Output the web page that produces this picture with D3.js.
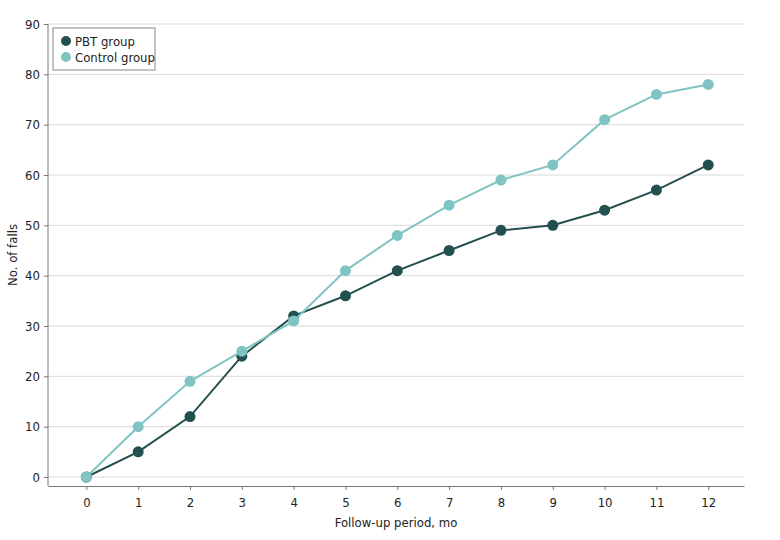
<!DOCTYPE html>
<html>
<head>
<meta charset="utf-8">
<script src="https://cdn.jsdelivr.net/npm/d3@7"></script>
<style>
  body { margin: 0; background: #fff; }
  svg text { font-family: "Liberation Sans Narrow", "DejaVu Sans Condensed", "Open Sans", sans-serif; fill: #222; }
</style>
</head>
<body>
<div id="chart"></div>
<script>
// data
var months = [0, 1, 2, 3, 4, 5, 6, 7, 8, 9, 10, 11, 12];
var pbtFalls = [0, 5, 12, 24, 32, 36, 41, 45, 49, 50, 53, 57, 62];
var controlFalls = [0, 10, 19, 25, 31, 41, 48, 54, 59, 62, 71, 76, 78];
var yTicks = [0, 10, 20, 30, 40, 50, 60, 70, 80, 90];
var seriesNames = ["PBT group", "Control group"];
var seriesColors = ["#22504f", "#7fc4c2"];

var width = 780, height = 540;
var margin = {top: 24, right: 36, bottom: 54, left: 48};

var svg = d3.select("#chart")
    .append("svg")
    .attr("width", width)
    .attr("height", height);

var x = d3.scaleLinear()
    .domain([-0.74, 12.69])
    .range([margin.left, width - margin.right]);

var y = d3.scaleLinear()
    .domain([0, 90])
    .range([477, margin.top]);

// gridlines
svg.append("g")
    .selectAll("line")
    .data(yTicks)
    .enter()
    .append("line")
    .attr("x1", margin.left)
    .attr("x2", width - margin.right)
    .attr("y1", function (d) { return y(d); })
    .attr("y2", function (d) { return y(d); })
    .style("stroke", "#d9d9d9")
    .style("stroke-width", 1);

// Y axis
var yAxis = svg.append("g")
    .attr("transform", "translate(" + margin.left + ",0)")
    .call(d3.axisLeft(y).tickValues(yTicks).tickSize(4).tickPadding(4));
yAxis.select(".domain").attr("d", "M0," + margin.top + "V486");

// X axis
var xAxis = svg.append("g")
    .attr("transform", "translate(0,486)")
    .call(d3.axisBottom(x).tickValues(months).tickSize(4).tickPadding(8).tickSizeOuter(0));

svg.selectAll(".domain, .tick line").style("stroke", "#777");
svg.selectAll(".tick text").style("font-size", "13px");

// axis titles
svg.append("text")
    .attr("x", (margin.left + width - margin.right) / 2)
    .attr("y", 527)
    .attr("text-anchor", "middle")
    .style("font-size", "13px")
    .text("Follow-up period, mo");

svg.append("text")
    .attr("transform", "translate(17," + ((margin.top + 486) / 2) + ") rotate(-90)")
    .attr("text-anchor", "middle")
    .style("font-size", "13px")
    .text("No. of falls");

// lines and dots, control drawn last
var allSeries = [pbtFalls, controlFalls];
var line = d3.line()
    .x(function (d, i) { return x(months[i]); })
    .y(function (d) { return y(d); });

allSeries.forEach(function (vals, k) {
    svg.append("path")
        .datum(vals)
        .attr("d", line)
        .style("fill", "none")
        .style("stroke", seriesColors[k])
        .style("stroke-width", 2);
    svg.append("g")
        .selectAll("circle")
        .data(vals)
        .enter()
        .append("circle")
        .attr("cx", function (d, i) { return x(months[i]); })
        .attr("cy", function (d) { return y(d); })
        .attr("r", 5.5)
        .style("fill", seriesColors[k]);
});

// legend
var legend = svg.append("g").attr("transform", "translate(53,28)");
legend.append("rect")
    .attr("width", 102)
    .attr("height", 42)
    .style("fill", "#fff")
    .style("stroke", "#888")
    .style("stroke-width", 1);
seriesNames.forEach(function (name, k) {
    legend.append("circle")
        .attr("cx", 13)
        .attr("cy", 13 + k * 16)
        .attr("r", 5)
        .style("fill", seriesColors[k]);
    legend.append("text")
        .attr("x", 22)
        .attr("y", 13 + k * 16)
        .attr("dy", "0.35em")
        .style("font-size", "13px")
        .text(name);
});
</script>
</body>
</html>
